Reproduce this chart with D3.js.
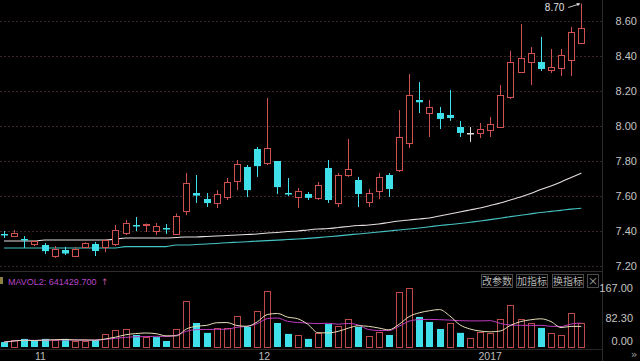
<!DOCTYPE html>
<html><head><meta charset="utf-8">
<script src="https://cdn.jsdelivr.net/npm/d3@7"></script>
<style>html,body{margin:0;padding:0;background:#000;overflow:hidden}svg{display:block}</style>
</head><body><svg id="c" width="640" height="361"></svg>
<script>
// ---- data ----
const opens = [7.385,7.37,7.356,7.33,7.32,7.26,7.29,7.26,7.31,7.325,
  7.31,7.325,7.389,7.436,7.438,7.40,7.42,7.383,7.514,7.62,
  7.583,7.56,7.594,7.686,7.766,7.869,7.789,7.80,7.62,7.594,
  7.611,7.589,7.76,7.56,7.72,7.691,7.566,7.629,7.72,7.749,
  7.903,8.15,8.074,8.074,8.063,7.994,7.962,7.96,7.977,7.994,
  8.166,8.309,8.366,8.366,8.32,8.331,8.377,8.474];
const closes = [7.38,7.39,7.352,7.345,7.285,7.30,7.27,7.30,7.33,7.285,
  7.35,7.406,7.446,7.432,7.442,7.429,7.415,7.486,7.674,7.605,
  7.56,7.611,7.68,7.783,7.634,7.771,7.874,7.651,7.615,7.629,
  7.589,7.663,7.577,7.72,7.754,7.611,7.617,7.709,7.64,7.937,
  8.177,8.137,8.109,8.04,8.046,7.96,7.962,7.983,8.011,8.177,
  8.366,8.389,8.417,8.326,8.337,8.406,8.537,8.56];
const highs = [7.40,7.406,7.371,7.349,7.331,7.314,7.309,7.309,7.335,7.337,
  7.354,7.434,7.463,7.48,7.445,7.446,7.44,7.50,7.731,7.72,
  7.617,7.634,7.703,7.806,7.777,7.88,8.16,7.80,7.703,7.646,
  7.623,7.68,7.806,7.731,7.926,7.709,7.64,7.731,7.731,8.091,
  8.297,8.251,8.149,8.109,8.206,8.029,7.994,8.017,8.051,8.234,
  8.43,8.583,8.451,8.509,8.44,8.44,8.566,8.70];
const lows = [7.36,7.366,7.303,7.314,7.269,7.246,7.263,7.257,7.303,7.257,
  7.28,7.314,7.377,7.40,7.394,7.377,7.383,7.377,7.491,7.56,
  7.537,7.531,7.577,7.634,7.594,7.709,7.777,7.611,7.60,7.531,
  7.577,7.577,7.56,7.537,7.709,7.537,7.537,7.583,7.594,7.737,
  7.874,8.074,7.937,7.983,8.029,7.937,7.909,7.931,7.937,7.989,
  8.154,8.303,8.234,8.314,8.303,8.286,8.286,8.47];
const volumes = [14,20,23,17,23,20,23,17,17,20,
  37,48,51,34,28,28,17,51,130,68,
  40,54,54,88,57,102,159,68,37,34,
  23,40,65,60,79,57,31,42,34,156,
  167,85,71,51,68,40,25,42,40,79,
  119,79,68,54,40,34,96,68];
const maWhite = [7.343,7.343,7.343,7.343,7.349,7.349,7.349,7.349,7.349,7.349,
  7.349,7.354,7.36,7.36,7.36,7.36,7.36,7.363,7.366,7.366,
  7.369,7.371,7.374,7.377,7.38,7.383,7.389,7.391,7.397,7.40,
  7.406,7.411,7.414,7.42,7.426,7.431,7.434,7.44,7.449,7.457,
  7.463,7.469,7.474,7.486,7.497,7.509,7.52,7.531,7.546,7.56,
  7.577,7.594,7.614,7.637,7.657,7.68,7.706,7.731];
const maCyan = [7.303,7.303,7.303,7.303,7.303,7.303,7.303,7.303,7.303,7.303,
  7.303,7.303,7.311,7.311,7.311,7.311,7.311,7.32,7.32,7.323,
  7.326,7.329,7.333,7.336,7.339,7.342,7.345,7.348,7.351,7.354,
  7.358,7.362,7.367,7.372,7.378,7.383,7.389,7.394,7.40,7.406,
  7.411,7.417,7.424,7.431,7.437,7.443,7.45,7.457,7.465,7.473,
  7.482,7.49,7.498,7.506,7.512,7.518,7.525,7.53];
const priceTicks = [7.2,7.4,7.6,7.8,8.0,8.2,8.4,8.6];
const volTicks = [0,82.3,167];
const monthLabels = ["11","12","2017"];
const monthPos = [3.6,25.7,48];
const mavolText = "MAVOL2: 641429.700";
const buttonLabels = ["改参数","加指标","换指标","×"];

// ---- drawing ----
const RED = "#cf5250", CYAN = "#3fe0ea", WHITE = "#dddddd";
const svg = d3.select("#c");
svg.append("rect").attr("width",640).attr("height",361).attr("fill","#000");

const n = opens.length;
const x = d3.scaleLinear().domain([0, n-1]).range([4, 581.3]);
const y = d3.scaleLinear().domain([7.2, 8.6]).range([266, 21]);
const yv = d3.scaleLinear().domain([0, 167]).range([347, 288]);
const px = i => Math.round(x(i)) + 0.5;

// grid
svg.append("g").selectAll("line").data(priceTicks).join("line")
  .attr("x1",0).attr("x2",602).attr("y1",d=>Math.round(y(d))+0.5).attr("y2",d=>Math.round(y(d))+0.5)
  .attr("stroke","#3a2828").attr("stroke-dasharray","2,2");

// separators
svg.append("line").attr("x1",0).attr("x2",602).attr("y1",271.5).attr("y2",271.5).attr("stroke","#2e2e2e");
svg.append("line").attr("x1",602.5).attr("x2",602.5).attr("y1",0).attr("y2",361).attr("stroke","#2a2a2a");
svg.append("line").attr("x1",0).attr("x2",602).attr("y1",349.5).attr("y2",349.5).attr("stroke","#262626");

// price axis
const pAxis = svg.append("g").attr("transform","translate(637,0)")
  .call(d3.axisLeft(y).tickValues(priceTicks).tickSize(0).tickPadding(0).tickFormat(d3.format(".2f")));
pAxis.select(".domain").remove();
pAxis.selectAll("text").attr("fill","#c4c4c4").style("font","11px 'Liberation Sans', Arial, sans-serif");

// price MA lines
const lineGen = d3.line().x((d,i)=>x(i)).y(d=>y(d)).curve(d3.curveMonotoneX);
svg.append("path").attr("d",lineGen(maWhite)).attr("fill","none").attr("stroke","#e6dede").attr("stroke-width",1.1);
svg.append("path").attr("d",lineGen(maCyan)).attr("fill","none").attr("stroke","#46c4c4").attr("stroke-width",1.1);

// candles
const idx = d3.range(n);
const col = i => closes[i] > opens[i] ? RED : (closes[i] < opens[i] ? CYAN : WHITE);
const cg = svg.append("g");
idx.forEach(i => {
  const cx = px(i);
  const top = Math.min(y(opens[i]), y(closes[i]));
  const bot = Math.max(y(opens[i]), y(closes[i]));
  const c = col(i);
  const up = closes[i] > opens[i];
  if (up) {
    cg.append("line").attr("x1",cx).attr("x2",cx).attr("y1",y(highs[i])).attr("y2",top).attr("stroke",c);
    cg.append("line").attr("x1",cx).attr("x2",cx).attr("y1",bot).attr("y2",y(lows[i])).attr("stroke",c);
    cg.append("rect").attr("x",cx-3).attr("y",Math.round(top)+0.5).attr("width",6)
      .attr("height",Math.max(1,Math.round(bot-top))).attr("fill","#000").attr("stroke",c);
  } else {
    cg.append("line").attr("x1",cx).attr("x2",cx).attr("y1",y(highs[i])).attr("y2",y(lows[i])).attr("stroke",c);
    cg.append("rect").attr("x",cx-3.5).attr("y",Math.round(top)).attr("width",7)
      .attr("height",Math.max(1.5,bot-top)).attr("fill",c);
  }
});

// high annotation
const hi = d3.maxIndex(highs);
svg.append("text").attr("x",x(hi)-17).attr("y",y(highs[hi])+7).attr("text-anchor","end")
  .attr("fill","#e0e0e0").style("font","10px 'Liberation Sans', Arial, sans-serif").text(highs[hi].toFixed(2));
svg.append("line").attr("x1",x(hi)-13).attr("y1",y(highs[hi])+4).attr("x2",x(hi)-2).attr("y2",y(highs[hi])+0.5)
  .attr("stroke","#e0e0e0").attr("stroke-width",0.9);
svg.append("path").attr("d",`M${x(hi)-1},${y(highs[hi])} l-4,-0.5 l1.5,3 z`).attr("fill","#e0e0e0");

// volume panel
const vAxis = svg.append("g").attr("transform","translate(633,0)")
  .call(d3.axisLeft(yv).tickValues(volTicks).tickSize(0).tickPadding(0).tickFormat(d3.format(".2f")));
vAxis.select(".domain").remove();
vAxis.selectAll("text").attr("fill","#c4c4c4").style("font","11px 'Liberation Sans', Arial, sans-serif")
  .filter(d=>d===0).attr("y",-6);

const volUp = i => i === 0 ? closes[i] >= opens[i] : closes[i] >= closes[i-1];
const vg = svg.append("g");
idx.forEach(i => {
  const cx = px(i);
  const h = yv(0) - yv(volumes[i]);
  if (volUp(i)) {
    vg.append("rect").attr("x",cx-3).attr("y",Math.round(yv(volumes[i]))+0.5).attr("width",6)
      .attr("height",Math.round(h)).attr("fill","#000").attr("stroke","#bd4a48");
  } else {
    vg.append("rect").attr("x",cx-3.5).attr("y",yv(volumes[i])).attr("width",7).attr("height",h).attr("fill",CYAN);
  }
});
const ma = (arr,k) => arr.map((_,i)=>d3.mean(arr.slice(Math.max(0,i-k+1),i+1)));
const vLine = d3.line().x((d,i)=>x(i)).y(d=>yv(d)).curve(d3.curveMonotoneX);
svg.append("path").attr("d",vLine(ma(volumes,10))).attr("fill","none").attr("stroke","#c03cc0").attr("stroke-width",1);
svg.append("path").attr("d",vLine(ma(volumes,5))).attr("fill","none").attr("stroke","#e8dfb8").attr("stroke-width",1);

// header
svg.append("rect").attr("x",0).attr("y",277).attr("width",3).attr("height",7).attr("fill","#8a8040");
svg.append("text").attr("x",8).attr("y",284.5).attr("fill","#b845c8")
  .style("font","9px 'Liberation Sans', Arial, sans-serif").text(mavolText);
svg.append("text").attr("x",101).attr("y",285).attr("fill","#c050a0")
  .style("font","9px 'DejaVu Sans', sans-serif").text("↑");

const bx = [481,516,552,587], bw = [31,31,31,11];
buttonLabels.forEach((t,k)=>{
  svg.append("rect").attr("x",bx[k]+0.5).attr("y",274.5).attr("width",bw[k]).attr("height",13)
    .attr("fill","none").attr("stroke","#4a4a4a");
  svg.append("text").attr("x",bx[k]+bw[k]/2+0.5).attr("y",285).attr("text-anchor","middle").attr("fill","#b4b4b4")
    .style("font","10px 'Noto Sans CJK SC', sans-serif").text(t);
});

// month labels
svg.append("g").selectAll("text").data(monthLabels).join("text")
  .attr("x",(d,k)=>x(monthPos[k])).attr("y",359.5).attr("text-anchor","middle").attr("fill","#bdbdbd")
  .style("font","10.5px 'Liberation Sans', Arial, sans-serif").text(d=>d);
svg.append("text").attr("x",634).attr("y",358).attr("text-anchor","middle").attr("fill","#9a9a9a")
  .style("font","11px 'DejaVu Sans', sans-serif").text("»");
</script></body></html>
